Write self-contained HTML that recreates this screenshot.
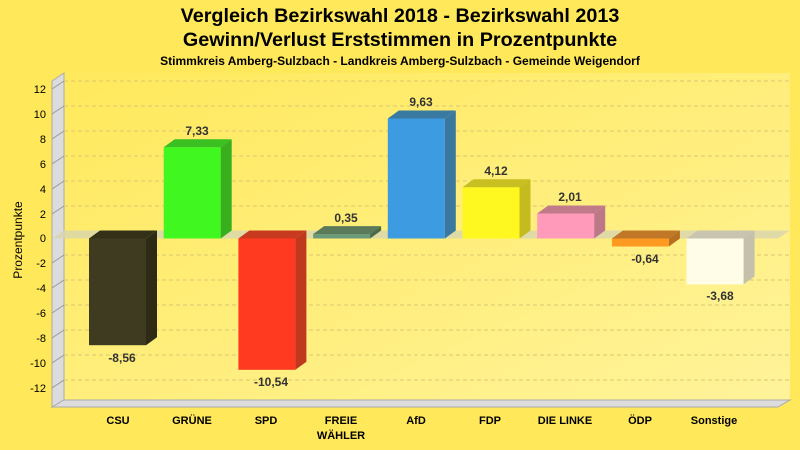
<!DOCTYPE html>
<html><head><meta charset="utf-8"><style>body{margin:0}svg{display:block;font-family:"Liberation Sans",sans-serif}</style></head><body>
<svg width="800" height="450" viewBox="0 0 800 450" xmlns="http://www.w3.org/2000/svg">
<defs><linearGradient id="w" x1="0" y1="0" x2="1" y2="1"><stop offset="0" stop-color="#ffe95c"/><stop offset="1" stop-color="#fff39a"/></linearGradient></defs>
<rect width="800" height="450" fill="#ffe85a"/>
<text x="400" y="22" text-anchor="middle" font-size="19.8" font-weight="bold">Vergleich Bezirkswahl 2018 - Bezirkswahl 2013</text>
<text x="400" y="46" text-anchor="middle" font-size="19.8" font-weight="bold">Gewinn/Verlust Erststimmen in Prozentpunkte</text>
<text x="400" y="65" text-anchor="middle" font-size="12" font-weight="bold">Stimmkreis Amberg-Sulzbach - Landkreis Amberg-Sulzbach - Gemeinde Weigendorf</text>
<rect x="64" y="73" width="726" height="327" fill="url(#w)"/>
<polygon points="52,81 64,73 64,400 52,407" fill="#dcdcdc" stroke="#aaa" stroke-width="1"/>
<polygon points="52,407 64,400 790,400 778,407" fill="#dcdcdc" stroke="#aaa" stroke-width="1"/>
<g stroke="#d8c870" stroke-dasharray="4,3" stroke-width="1">
<line x1="64" y1="81" x2="790" y2="81"/><line x1="64" y1="106" x2="790" y2="106"/><line x1="64" y1="131" x2="790" y2="131"/><line x1="64" y1="156" x2="790" y2="156"/><line x1="64" y1="181" x2="790" y2="181"/><line x1="64" y1="206" x2="790" y2="206"/><line x1="64" y1="255" x2="790" y2="255"/><line x1="64" y1="280" x2="790" y2="280"/><line x1="64" y1="305" x2="790" y2="305"/><line x1="64" y1="330" x2="790" y2="330"/><line x1="64" y1="355" x2="790" y2="355"/><line x1="64" y1="380" x2="790" y2="380"/>
</g>
<g stroke="#999" stroke-width="1">
<line x1="52" y1="89" x2="64" y2="81"/><line x1="52" y1="114" x2="64" y2="106"/><line x1="52" y1="139" x2="64" y2="131"/><line x1="52" y1="164" x2="64" y2="156"/><line x1="52" y1="189" x2="64" y2="181"/><line x1="52" y1="214" x2="64" y2="206"/><line x1="52" y1="263" x2="64" y2="255"/><line x1="52" y1="288" x2="64" y2="280"/><line x1="52" y1="313" x2="64" y2="305"/><line x1="52" y1="338" x2="64" y2="330"/><line x1="52" y1="363" x2="64" y2="355"/><line x1="52" y1="388" x2="64" y2="380"/>
</g>
<g font-size="11" text-anchor="end">
<text x="46" y="93">12</text><text x="46" y="118">10</text><text x="46" y="143">8</text><text x="46" y="168">6</text><text x="46" y="193">4</text><text x="46" y="218">2</text><text x="46" y="242">0</text><text x="46" y="267">-2</text><text x="46" y="292">-4</text><text x="46" y="317">-6</text><text x="46" y="342">-8</text><text x="46" y="367">-10</text><text x="46" y="392">-12</text>
</g>
<text transform="translate(22,240) rotate(-90)" text-anchor="middle" font-size="12">Prozentpunkte</text>
<polygon points="52,238.5 64,230.5 790,230.5 778,238.5" fill="#d8d4b0" opacity="0.8"/>
<rect x="89" y="238.5" width="57" height="106.7" fill="#3f3b20"/>
<polygon points="89,238.5 100,230.5 157,230.5 146,238.5" fill="#333018"/>
<polygon points="146,238.5 157,230.5 157,337.2 146,345.2" fill="#2e2b15"/>
<rect x="163.7" y="147.2" width="57" height="91.3" fill="#40f820"/>
<polygon points="163.7,147.2 174.7,139.2 231.7,139.2 220.7,147.2" fill="#3ac020"/>
<polygon points="220.7,147.2 231.7,139.2 231.7,230.5 220.7,238.5" fill="#38b01e"/>
<rect x="238.4" y="238.5" width="57" height="131.3" fill="#ff3a20"/>
<polygon points="238.4,238.5 249.4,230.5 306.4,230.5 295.4,238.5" fill="#c83a20"/>
<polygon points="295.4,238.5 306.4,230.5 306.4,361.8 295.4,369.8" fill="#c0381e"/>
<rect x="313.1" y="234.1" width="57" height="4.4" fill="#6a9a7a"/>
<polygon points="313.1,234.1 324.1,226.1 381.1,226.1 370.1,234.1" fill="#5a7a5a"/>
<polygon points="370.1,234.1 381.1,226.1 381.1,230.5 370.1,238.5" fill="#4a6a4a"/>
<rect x="387.8" y="118.5" width="57" height="120" fill="#3d9be2"/>
<polygon points="387.8,118.5 398.8,110.5 455.8,110.5 444.8,118.5" fill="#3a7aa0"/>
<polygon points="444.8,118.5 455.8,110.5 455.8,230.5 444.8,238.5" fill="#3a78a0"/>
<rect x="462.5" y="187.2" width="57" height="51.3" fill="#fff820"/>
<polygon points="462.5,187.2 473.5,179.2 530.5,179.2 519.5,187.2" fill="#c8c020"/>
<polygon points="519.5,187.2 530.5,179.2 530.5,230.5 519.5,238.5" fill="#c4bc1e"/>
<rect x="537.2" y="213.5" width="57" height="25" fill="#ff9abb"/>
<polygon points="537.2,213.5 548.2,205.5 605.2,205.5 594.2,213.5" fill="#c07a8a"/>
<polygon points="594.2,213.5 605.2,205.5 605.2,230.5 594.2,238.5" fill="#bc7888"/>
<rect x="611.9" y="238.5" width="57" height="8" fill="#ff9a20"/>
<polygon points="611.9,238.5 622.9,230.5 679.9,230.5 668.9,238.5" fill="#c07828"/>
<polygon points="668.9,238.5 679.9,230.5 679.9,238.5 668.9,246.5" fill="#b87020"/>
<rect x="686.6" y="238.5" width="57" height="45.9" fill="#fffde8"/>
<polygon points="686.6,238.5 697.6,230.5 754.6,230.5 743.6,238.5" fill="#c8c4b0"/>
<polygon points="743.6,238.5 754.6,230.5 754.6,276.4 743.6,284.4" fill="#c4c0aa"/>
<g font-size="12" font-weight="bold" fill="#333" text-anchor="middle">
<text x="122" y="362">-8,56</text><text x="197" y="135">7,33</text><text x="271" y="386">-10,54</text><text x="346" y="222">0,35</text><text x="421" y="106">9,63</text><text x="496" y="175">4,12</text><text x="570" y="201">2,01</text><text x="645" y="263">-0,64</text><text x="720" y="300">-3,68</text>
</g>
<g font-size="11" font-weight="bold" text-anchor="middle">
<text x="118" y="424">CSU</text><text x="192" y="424">GRÜNE</text><text x="266" y="424">SPD</text><text x="341" y="424">FREIE</text><text x="341" y="439">WÄHLER</text><text x="416" y="424">AfD</text><text x="490" y="424">FDP</text><text x="565" y="424">DIE LINKE</text><text x="640" y="424">ÖDP</text><text x="714" y="424">Sonstige</text>
</g>
</svg>
</body></html>
